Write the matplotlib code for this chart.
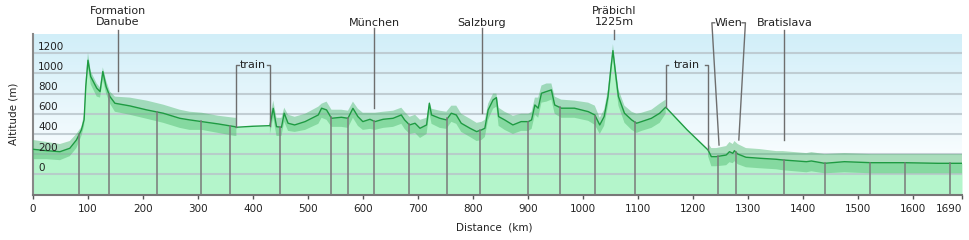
import numpy as np
import matplotlib
matplotlib.use("Agg")
import matplotlib.pyplot as plt

# elevation profile (km, m)
km = [0, 25, 49, 67, 79, 88, 93, 96, 100, 105, 116, 122, 127, 133, 140, 149, 176, 207, 237, 267,
      285, 307, 337, 367, 370, 400, 431, 437, 443, 452, 457, 464, 476, 495, 519, 525, 534, 543, 561, 573,
      582, 591, 600, 613, 622, 637, 655, 670, 676, 685, 695, 704, 716, 721, 725, 740, 752, 761, 770, 779,
      795, 807, 816, 822, 828, 837, 843, 847, 858, 873, 888, 901, 907, 913, 919, 925, 934, 943, 949, 961,
      985, 1010, 1022, 1031, 1039, 1046, 1051, 1055, 1059, 1065, 1076, 1089, 1098, 1107, 1125, 1140, 1151, 1190, 1228, 1234,
      1243, 1261, 1267, 1273, 1276, 1282, 1297, 1322, 1352, 1364, 1407, 1416, 1440, 1476, 1525, 1585, 1646, 1690]
alt = [248, 234, 224, 258, 340, 440, 540, 870, 1130, 968, 853, 820, 1018, 869, 770, 704, 678, 638, 605, 555,
       539, 522, 499, 472, 466, 476, 482, 654, 472, 466, 605, 506, 489, 522, 588, 655, 638, 555, 565, 555,
       654, 572, 522, 545, 522, 545, 555, 588, 539, 489, 506, 456, 489, 704, 588, 555, 539, 605, 588, 506,
       456, 423, 440, 456, 638, 737, 760, 572, 539, 489, 522, 522, 539, 687, 655, 803, 820, 836, 687, 655,
       655, 621, 588, 489, 572, 770, 1035, 1225, 1035, 770, 605, 539, 506, 522, 555, 605, 665, 440, 241, 175,
       175, 191, 224, 208, 234, 201, 169, 159, 149, 142, 125, 132, 109, 125, 115, 115, 109, 109]
# min/max band around the track (None = train, no band)
band_hi = [340, 320, 300, 330, 400, 470, 600, 950, 1205, 1020, 900, 860, 1060, 930, 820, 770, 760, 730, 690, 640,
           620, 610, 580, 560, 560, None, 560, 730, 560, 560, 660, 590, 570, 600, 670, 700, 720, 640, 640, 630,
           720, 650, 610, 610, 610, 620, 630, 660, 620, 570, 590, 540, 560, 720, 650, 630, 620, 680, 680, 600,
           550, 510, 520, 540, 700, 800, 800, 660, 620, 580, 600, 600, 620, 760, 760, 880, 900, 900, 770, 740,
           730, 710, 680, 560, 640, 840, 1100, 1290, 1100, 840, 680, 620, 600, 610, 640, 700, 740, None, 310, 260,
           260, 280, 320, 300, 330, 300, 260, 250, 230, 230, 210, 220, 200, 210, 200, 200, 200, 200]
band_lo = [150, 150, 140, 180, 260, 380, 480, 800, 1060, 890, 770, 760, 940, 800, 700, 620, 590, 550, 510, 460,
           440, 440, 410, 380, 380, None, 400, 560, 380, 380, 520, 430, 420, 440, 500, 560, 540, 470, 470, 460,
           560, 480, 440, 450, 440, 460, 470, 500, 450, 400, 410, 360, 400, 610, 500, 460, 450, 520, 500, 420,
           370, 330, 340, 370, 540, 650, 670, 480, 440, 400, 430, 430, 450, 590, 560, 710, 720, 740, 600, 560,
           560, 530, 490, 400, 480, 680, 950, 1180, 950, 680, 510, 440, 410, 430, 460, 510, 600, None, 180, 80,
           80, 90, 120, 110, 130, 100, 70, 60, 50, 40, 20, 30, 10, 20, 10, 10, 10, 10]

markers = [84, 138, 225, 305, 359, 450, 542, 573, 621, 684, 754, 813, 901, 958, 1023, 1095,
           1246, 1279, 1367, 1441, 1523, 1587, 1669]

xticks = [0, 100, 200, 300, 400, 500, 600, 700, 800, 900, 1000, 1100, 1200, 1300, 1400, 1500, 1600, 1690]
yticks = [0, 200, 400, 600, 800, 1000, 1200]

# simple labels: (km, text, line top, line bottom)
labels = [(154, "Formation\nDanube", 1430, 826),
          (621, "München", 1450, 660),
          (816, "Salzburg", 1450, 610),
          (1057, "Präbichl\n1225m", 1430, 1340),
          (1367, "Bratislava", 1430, 340)]
trains = [(370, 431, 466, 482), (1151, 1228, 665, 241)]

km_a = np.array(km, float)
alt_a = np.array(alt, float)
hi_a = np.array([np.nan if v is None else v for v in band_hi])
lo_a = np.array([np.nan if v is None else v for v in band_lo])

Y0, Y1 = -205, 1390
X1 = 1690

fig = plt.figure(figsize=(9.7, 2.4), dpi=100)
ax = fig.add_axes([33 / 970, 45 / 240, 929 / 970, 161 / 240])
ax.set_xlim(0, X1)
ax.set_ylim(Y0, Y1)

# background gradient
top = np.array([0.82, 0.935, 0.975])
bot = np.array([0.985, 0.995, 1.0])
t = np.clip((np.linspace(Y1, Y0, 200) - 100) / (Y1 - 100), 0, 1)[:, None]
grad = (bot + (top - bot) * t)[:, None, :]
ax.imshow(grad, extent=[0, X1, Y0, Y1], aspect="auto", zorder=0, interpolation="bilinear")

ax.fill_between(km_a, Y0, alt_a, color="#b4f5cb", lw=0, zorder=1)
for v in yticks:
    ax.axhline(v, color="#b8c4ca", lw=1.5, alpha=0.8, zorder=2)
ax.fill_between(km_a, lo_a, hi_a, color="#4cb86c", alpha=0.45, lw=0, zorder=3)
ax.plot(km_a, alt_a, color="#1e9b42", lw=1.0, zorder=4)

for m in markers:
    ax.plot([m, m], [Y0, np.interp(m, km_a, alt_a)], color="#7a7a7a", lw=1.1, zorder=5)

for v in yticks:
    ax.text(9, v + 65, str(v), fontsize=7.5, color="#222222", va="center", ha="left", zorder=6)

lc = "#6e6e6e"
for x, txt, ytop, ybot in labels:
    ax.plot([x, x], [ytop, ybot], color=lc, lw=1, zorder=5, clip_on=False)
    ax.text(x, 1565 if "\n" in txt else 1500, txt, fontsize=8, ha="center", va="center",
            linespacing=1.15, color="#222222", clip_on=False)

for a, b, ya, yb in trains:
    yt = 1084
    ax.plot([a + 5, a, a], [yt, yt, ya], color=lc, lw=1, zorder=5)
    ax.plot([b - 5, b, b], [yt, yt, yb], color=lc, lw=1, zorder=5)
    ax.text((a + b) / 2, yt, "train", fontsize=8, ha="center", va="center", color="#222222", zorder=6)

# Wien bracket with slanted legs
ax.plot([1240, 1235, 1248], [1501, 1501, 290], color=lc, lw=1, zorder=5, clip_on=False)
ax.plot([1290, 1296, 1284], [1501, 1501, 340], color=lc, lw=1, zorder=5, clip_on=False)
ax.text(1265, 1500, "Wien", fontsize=8, ha="center", va="center", color="#222222", clip_on=False)

ax.set_xticks(xticks)
ax.set_xticklabels([str(v) for v in xticks], fontsize=7.5)
ax.get_xticklabels()[-1].set_horizontalalignment("right")
ax.tick_params(axis="x", length=3, width=1, color="#555555", pad=3.5, labelcolor="#222222")
ax.set_yticks([])
for s in ["top", "right"]:
    ax.spines[s].set_visible(False)
ax.spines["left"].set_color("#888888")
ax.spines["left"].set_linewidth(1.5)
ax.spines["bottom"].set_color("#777777")
ax.spines["bottom"].set_linewidth(1.5)
ax.set_zorder(1)

fig.text(14 / 970, 1 - 114 / 240, "Altitude (m)", rotation=90, fontsize=7.5, ha="center", va="center", color="#222222")
fig.text(494 / 970, 1 - 228 / 240, "Distance  (km)", fontsize=7.5, ha="center", va="center", color="#222222")

fig.savefig("out.png", dpi=100)
